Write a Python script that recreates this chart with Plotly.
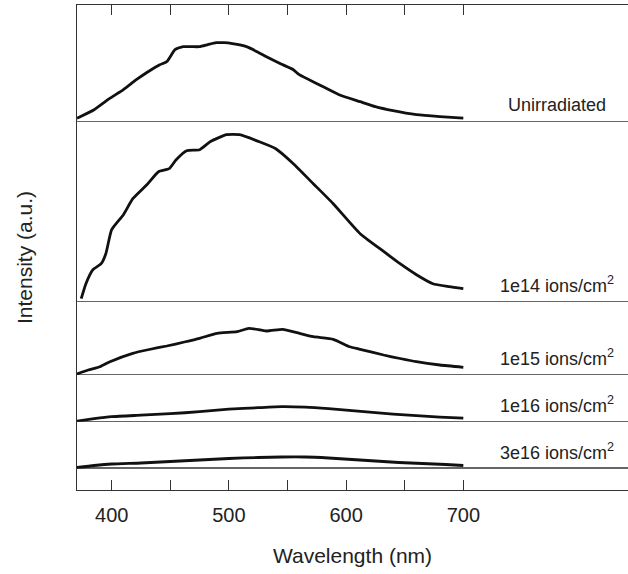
import plotly.graph_objects as go

# ---------------- data (intensities in a.u.) ----------------
series_names = ["Unirradiated", "1e14 ions/cm<sup>2</sup>", "1e15 ions/cm<sup>2</sup>",
                "1e16 ions/cm<sup>2</sup>", "3e16 ions/cm<sup>2</sup>"]

wl_unirr = [370.4, 385, 398, 410, 421, 431, 441, 447, 454, 461, 468, 475, 482, 489, 496, 503,
            515, 524, 532, 544, 555, 560, 577, 594, 612, 625, 640, 660, 680, 700]
int_unirr = [3.5, 12, 23, 32, 42, 50, 57, 60, 72, 75, 75, 75, 77, 79, 79, 78,
             75, 70, 65, 58, 52, 47, 37, 27, 20, 15, 11, 7, 5, 3.5]

wl_1e14 = [374, 378, 384, 391, 395, 400, 410, 418, 430, 440, 449, 455, 464, 475, 484, 498,
           509, 526, 540, 555, 572, 589, 612, 630, 646, 660, 674, 688, 700]
int_1e14 = [3, 18, 32, 38, 48, 72, 87, 103, 117, 130, 133, 142, 151, 152, 160, 167,
            167, 160, 153, 138, 118, 98, 68, 52, 38, 27, 18, 15, 13]

wl_1e15 = [370.1, 380, 390, 398.5, 418, 432, 447, 462, 475, 490, 507, 517, 532, 546, 558,
           572, 589, 603, 612, 632, 646, 660, 680, 700]
int_1e15 = [1, 5, 8.3, 13.3, 21.7, 25.5, 29, 33, 36.7, 41.7, 43.3, 46.7, 44, 45.7, 42.3,
            38.3, 35.7, 28.3, 25.7, 20, 16.5, 13.3, 10, 7.7]

wl_1e16 = [370, 385, 400, 425, 450, 475, 500, 525, 545, 565, 585, 600, 620, 640, 660, 680, 700]
int_1e16 = [0.5, 3, 5, 6.5, 8, 10, 12.5, 14, 15, 14.5, 13, 11.5, 9.5, 7.5, 6, 4.5, 3.5]

wl_3e16 = [370, 385, 400, 425, 450, 475, 500, 525, 545, 565, 585, 605, 625, 645, 665, 685, 700]
int_3e16 = [0.5, 2.5, 4, 5, 6.5, 8, 9.5, 10.5, 11, 11, 10, 8.5, 7, 5.5, 4.5, 3.5, 2.5]

x_major_ticks = [400, 500, 600, 700]
x_minor_ticks = [450, 550, 650]

wavelengths = [wl_unirr, wl_1e14, wl_1e15, wl_1e16, wl_3e16]
intensities = [int_unirr, int_1e14, int_1e15, int_1e16, int_3e16]

# ---------------- layout (pixel geometry of the stacked panels) ----------------
W, H = 628, 574
TOP, BOTTOM = 5, 490
PLOT_H = BOTTOM - TOP
panel_upper = [5, 121.7, 301.7, 375, 421.7]
panel_lower = [121.7, 301.7, 375, 421.7, 490]
panel_base = [121.7, 301.7, 375, 421.7, 468]

AX = "#333333"
FONT = "Liberation Sans, Arial, sans-serif"

fig = go.Figure()
# frame subplot (x / y6) carrying the outer axes
fig.add_trace(go.Scatter(x=[None], y=[None], xaxis="x", yaxis="y6", showlegend=False,
                         hoverinfo="skip"))

layout_axes = {}
shapes = []
annotations = []
for k in range(5):
    yname = "y" if k == 0 else f"y{k+1}"
    ykey = "yaxis" if k == 0 else f"yaxis{k+1}"
    fig.add_trace(go.Scatter(x=wavelengths[k], y=intensities[k], mode="lines",
                             line=dict(color="#111111", width=2.8, shape="spline",
                                       smoothing=0.5),
                             xaxis="x", yaxis=yname, showlegend=False,
                             hoverinfo="skip"))
    d0 = (BOTTOM - panel_lower[k]) / PLOT_H
    d1 = (BOTTOM - panel_upper[k]) / PLOT_H
    r0 = -(panel_lower[k] - panel_base[k])
    r1 = panel_base[k] - panel_upper[k]
    layout_axes[ykey] = dict(domain=[d0, d1], range=[r0, r1], anchor="x",
                             showline=False, ticks="", showticklabels=False,
                             showgrid=False, zeroline=False, fixedrange=True)
    shapes.append(dict(type="line", xref="paper", x0=0, x1=1, yref=yname, y0=0, y1=0,
                       line=dict(color=AX, width=1.3), layer="below"))
    annotations.append(dict(text=series_names[k], x=779.5, xref="x", y=17, yref=yname,
                            showarrow=False, xanchor="center", yanchor="middle",
                            font=dict(size=18, color="#222222", family=FONT)))

layout_axes["yaxis6"] = dict(domain=[0, 1], range=[0, 1], anchor="x", showline=True,
                             linecolor=AX, linewidth=1.3, ticks="", showticklabels=False,
                             showgrid=False, zeroline=False, fixedrange=True)

annotations.append(dict(text="Intensity (a.u.)", xref="paper", yref="paper",
                        x=(24 - 77) / (W - 77), y=(BOTTOM - 258) / PLOT_H,
                        showarrow=False, textangle=-90, xanchor="center", yanchor="middle",
                        font=dict(size=21, color="#222222", family=FONT)))

fig.update_layout(
    width=W, height=H,
    margin=dict(l=77, r=0, t=TOP, b=H - BOTTOM),
    paper_bgcolor="white", plot_bgcolor="rgba(0,0,0,0)",
    font=dict(family=FONT, color="#222222"),
    xaxis=dict(range=[370.4, 840.5], anchor="y6", tickmode="array", tickvals=x_major_ticks,
               ticks="inside", ticklen=10, tickwidth=1.3, tickcolor=AX,
               minor=dict(tickmode="array", tickvals=x_minor_ticks, ticks="inside",
                          ticklen=10, tickwidth=1.3, tickcolor=AX, showgrid=False),
               ticklabelstandoff=7,
               showline=True, linecolor=AX, linewidth=1.3, mirror="ticks",
               showgrid=False, zeroline=False, fixedrange=True,
               tickfont=dict(size=20, color="#222222"),
               title=dict(text="Wavelength (nm)", font=dict(size=21, color="#222222"),
                          standoff=23)),
    shapes=shapes,
    annotations=annotations,
    **layout_axes,
)

fig.write_html("out.html")
